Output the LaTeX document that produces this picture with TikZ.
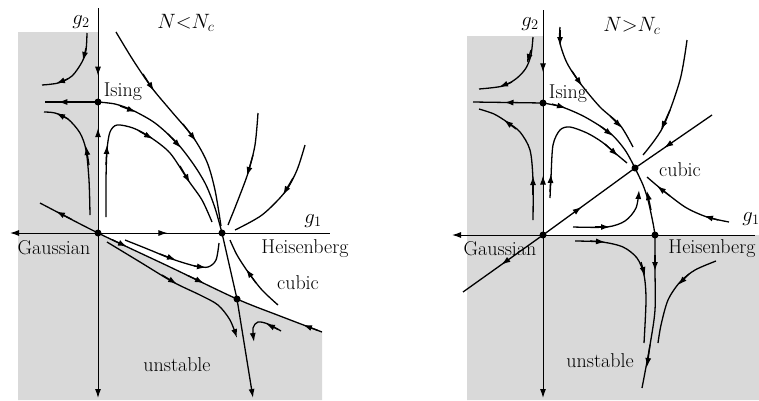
\documentclass[tikz,border=0pt]{standalone}
\usepackage{fontspec}
\usetikzlibrary{arrows.meta,decorations.markings}
\newcommand\farr[2]{\draw[line width=1.3pt,-{Latex[length=9pt,width=6pt]}] #1 -- #2;}
\begin{document}
\begin{tikzpicture}[x=1pt,y=-1pt,
  flow/.style={line width=1.3pt},
  axis/.style={line width=1pt},
  tip/.style={-{Latex[length=9pt,width=6pt]}},
  am/.style={postaction={decorate,decoration={markings,mark=at position #1 with {\arrow{Latex[length=9pt,width=6pt]}}}}},
  fp/.style={circle,fill=black,inner sep=0pt,minimum size=7pt},
  lbl/.style={font=\fontsize{20}{24}\selectfont,inner sep=0pt},
  shade/.style={fill=black!15,draw=none}]
\useasboundingbox (0,0) rectangle (759,400);
% ---------- LEFT PANEL ----------
\fill[shade] (18,32) -- (98,32) -- (98,233) -- (170,267) -- (237,299) -- (280,316) -- (322,332) -- (322,400) -- (18,400) -- cycle;
\node[fp] (isingL) at (98,102) {};
\node[fp] (gaussL) at (98,233) {};
\node[fp] (heisL) at (222,233) {};
\node[fp] (cubicL) at (237,299) {};
% axes
\draw[axis,am=0.72] (98,8) -- (isingL.center);
\draw[axis,am=0.8] (gaussL.center) -- (isingL.center);
\draw[axis,tip] (gaussL.center) -- (98,398);
\draw[axis,tip] (gaussL.center) -- (10,233);
\draw[axis,am=0.56] (gaussL.center) -- (heisL.center);
\draw[axis] (heisL.center) -- (330,233);
% flows
\draw[flow] plot[smooth] coordinates {(87,33) (86,50) (82,62) (72,76) (58,83) (42,85)};
\farr{(86,48)}{(83,61)} \farr{(68,79)}{(56,83.5)}
\draw[flow,am=0.75] (isingL.center) -- (45,102);
\draw[flow] plot[smooth] coordinates {(90,215) (89,180) (86,150) (80,133) (68,119) (55,113) (44,112)};
\farr{(89,165)}{(86,146)} \farr{(68,119)}{(56,113)}
\draw[flow] plot[smooth] coordinates {(isingL.center) (115,104) (132,110) (155,123) (177,143) (194,165) (206,185) (215,208) (heisL.center)};
\farr{(120,106)}{(136,112)} \farr{(168,134)}{(181,148)}
\draw[flow] plot[smooth] coordinates {(116,32) (133,60) (152,88) (172,112) (193,137) (207,162) (215,190) (221,226)};
\farr{(143,74)}{(154,91)} \farr{(183,124)}{(196,141)}
\draw[flow] plot[smooth] coordinates {(106,217) (106,180) (107,150) (110,132) (117,125) (133,128) (150,137) (170,153) (188,180) (202,200) (212,222)};
\farr{(106,165)}{(107,145)} \farr{(139,131)}{(153,139)} \farr{(180,166)}{(190,183)}
\draw[flow] plot[smooth] coordinates {(258,113) (255,145) (248,173) (238,200) (228,225)};
\farr{(253,155)}{(247,176)}
\draw[flow] plot[smooth] coordinates {(305,145) (297,170) (285,192) (262,215) (235,230)};
\farr{(293,178)}{(283,195)}
\draw[flow] plot[smooth] coordinates {(40,203) (gaussL.center) (170,267) (cubicL.center) (280,316) (322,332)};
\farr{(72,219.5)}{(56,211.3)} \farr{(112,239.6)}{(127,246.7)} \farr{(188,275.6)}{(204,283.2)} \farr{(318,330.5)}{(303,324.8)}
\draw[flow,tip] plot[smooth] coordinates {(107,242) (140,262) (173,282) (200,295) (218,305) (230,320) (237,338)};
\farr{(162,275)}{(177,284)}
\draw[flow] plot[smooth] coordinates {(125,240) (150,250) (172,259) (195,266) (208,267) (216,260) (219,243)};
\farr{(160,254)}{(176,260)} \farr{(194,266)}{(206,267.5)}
\draw[flow] plot[smooth] coordinates {(278,305) (262,290) (248,272) (237,255) (230,240)};
\farr{(256,283)}{(246,269)}
\draw[flow,tip] plot[smooth] coordinates {(281,331) (268,324) (258,322) (253,328) (254,342)};
\farr{(278,329.5)}{(266,323.5)}
\draw[flow] (heisL.center) -- (cubicL.center);
\draw[flow,tip] (cubicL.center) -- (253,398);
% labels
\node[lbl] (g2L) at (81,22) {$g_2$};
\node[lbl] (titleL) at (186,23) {$N{<}N_c$};
\node[lbl] (isingLt) at (123,92) {Ising};
\node[lbl] (gaussLt) at (54,248) {Gaussian};
\node[lbl] (heisLt) at (305,249) {Heisenberg};
\node[lbl] (cubicLt) at (298,283) {cubic};
\node[lbl] (unstL) at (177,365) {unstable};
\node[lbl] (g1L) at (313,221) {$g_1$};
% ---------- RIGHT PANEL ----------
\fill[shade] (467,36) -- (543,36) -- (543,235) -- (759,235) -- (759,400) -- (467,400) -- cycle;
\node[fp] (isingR) at (543,103) {};
\node[fp] (gaussR) at (543,235) {};
\node[fp] (heisR) at (655,235) {};
\node[fp] (cubicR) at (635,168) {};
% axes
\draw[axis,am=0.67] (543,10) -- (isingR.center);
\draw[axis,am=0.45] (gaussR.center) -- (isingR.center);
\draw[axis,tip] (gaussR.center) -- (543,398);
\draw[axis,tip] (gaussR.center) -- (452,235);
\draw[axis] (gaussR.center) -- (755,235);
% diagonal
\draw[flow,am=0.52] (gaussR.center) -- (463,292);
\draw[flow,am=0.42] (gaussR.center) -- (cubicR.center);
\draw[flow,am=0.62] (712,115) -- (cubicR.center);
% flows
\draw[flow] plot[smooth] coordinates {(533,37) (531,55) (526,68) (517,78) (503,86) (479,89)};
\farr{(531,50)}{(527,63)} \farr{(512,82)}{(499,87)}
\draw[flow,am=0.55] (isingR.center) -- (473,102);
\draw[flow] plot[smooth] coordinates {(533,220) (533,180) (530,150) (520,132) (507,122) (494,114) (479,109)};
\farr{(533,195)}{(533,176)} \farr{(516,129)}{(504,120)}
\draw[flow] plot[smooth] coordinates {(550,198) (551,177) (553,145) (560,130) (570,127) (587,133) (602,142) (615,153) (627,163)};
\farr{(550,192)}{(551,174)} \farr{(605,144)}{(618,156)}
\draw[flow] plot[smooth] coordinates {(isingR.center) (562,107) (585,117) (610,133) (625,150) (cubicR.center)};
\farr{(552,104)}{(566,108)} \farr{(600,126)}{(613,136)}
\draw[flow] plot[smooth] coordinates {(heisR.center) (653,223) (648,200) (643,185) (cubicR.center)};
\farr{(651,210)}{(647,191)}
\draw[flow] plot[smooth] coordinates {(560,27) (560,43) (567,63) (580,83) (600,107) (620,125) (633,147)};
\farr{(560,30)}{(560,46)} \farr{(572,71)}{(582,86)} \farr{(610,116)}{(622,128)}
\draw[flow] plot[smooth] coordinates {(687,40) (680,80) (663,127) (643,155)};
\farr{(670,110)}{(661,130)}
\draw[flow] plot[smooth] coordinates {(729,222) (707,217) (685,207) (660,188) (647,177)};
\farr{(718,220)}{(704,216)} \farr{(670,196)}{(657,186)}
\draw[flow,tip] plot[smooth] coordinates {(573,227) (607,227) (625,221) (636,208) (639,190)};
\farr{(595,227)}{(610,227)}
\draw[flow] plot[smooth] coordinates {(575,241) (602,242) (623,247) (637,258) (644,275) (646,300) (644,343)};
\farr{(590,241)}{(605,242)} \farr{(641,262)}{(645,276)}
\draw[flow] plot[smooth] coordinates {(heisR.center) (655,270) (655,310) (650,345) (642,388)};
\farr{(655,255)}{(655,271)} \farr{(650,345)}{(647,367)}
\draw[flow] plot[smooth] coordinates {(716,261) (695,270) (680,282) (668,300) (661,325) (658,343)};
\farr{(689,274)}{(678,285)}
% labels
\node[lbl] (g2R) at (530,24) {$g_2$};
\node[lbl] (titleR) at (632,26) {$N{>}N_c$};
\node[lbl] (isingRt) at (568,94) {Ising};
\node[lbl] (cubicRt) at (680,170) {cubic};
\node[lbl] (gaussRt) at (500,249) {Gaussian};
\node[lbl] (heisRt) at (712,249) {Heisenberg};
\node[lbl] (unstR) at (600,361) {unstable};
\node[lbl] (g1R) at (751,219) {$g_1$};
\end{tikzpicture}
\end{document}
